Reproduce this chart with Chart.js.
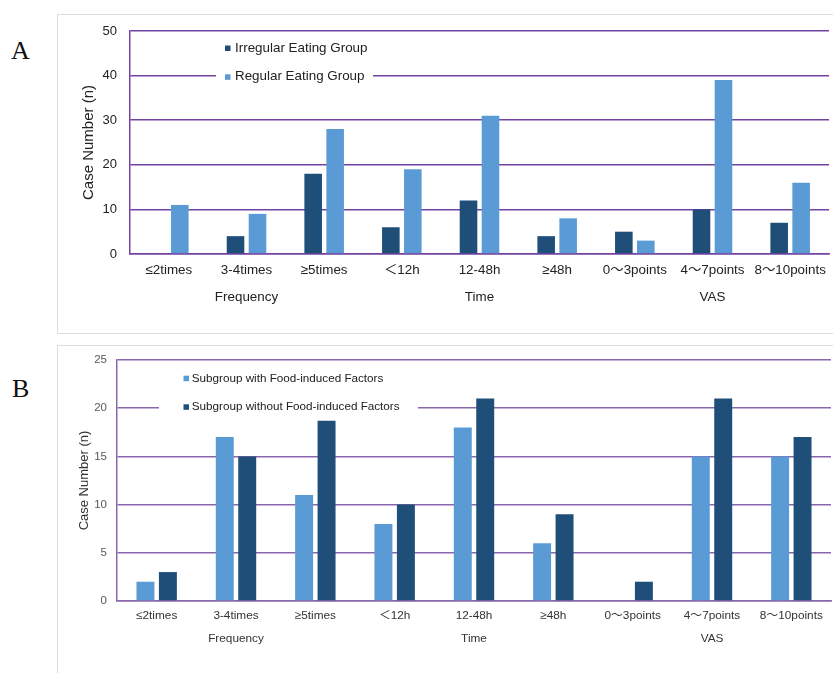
<!DOCTYPE html>
<html>
<head>
<meta charset="utf-8">
<script src="https://cdn.jsdelivr.net/npm/chart.js@4.4.1/dist/chart.umd.min.js"></script>
<style>
  html, body { margin: 0; padding: 0; background: #fff; }
  body { width: 833px; height: 673px; position: relative; overflow: hidden; }
  .box { position: absolute; border: 1.5px solid #dcdcdc; box-sizing: border-box; }
  .tag { position: absolute; font-family: "Liberation Serif", "Times New Roman", serif; font-size: 26px; color: #111; line-height: 1; }
  canvas { position: absolute; left: 0; }
</style>
</head>
<body>
<div class="box" style="left:57px; top:14px; width:800px; height:320px;"></div>
<div class="box" style="left:57px; top:345px; width:800px; height:360px;"></div>
<div class="tag" style="left:11px; top:37.5px;">A</div>
<div class="tag" style="left:12px; top:376px;">B</div>
<canvas id="chartA" width="833" height="340" style="top:0;"></canvas>
<canvas id="chartB" width="833" height="333" style="top:340px;"></canvas>
<script>
/* ─── Data ─── */
const categories = ["≤2times", "3-4times", "≥5times", "＜12h", "12-48h", "≥48h", "0～3points", "4～7points", "8～10points"];
const groupLabels = ["", "Frequency", "", "", "Time", "", "", "VAS", ""];

const irregularEating = [0, 4, 18, 6, 12, 4, 5, 10, 7];
const regularEating = [11, 9, 28, 19, 31, 8, 3, 39, 16];
const ticksA = [0, 10, 20, 30, 40, 50];

const withFood = [2, 17, 11, 8, 18, 6, 0, 15, 15];
const withoutFood = [3, 15, 18.7, 10, 21, 9, 2, 21, 17];
const ticksB = [0, 5, 10, 15, 20, 25];

const DARK = "#1f4e79";
const LIGHT = "#5b9bd5";
const FONT = "'Liberation Sans', Arial, 'Noto Sans CJK SC', sans-serif";
Chart.defaults.font.family = FONT;

// category label + group name on a second line
const xLabels = categories.map((c, i) => (groupLabels[i] ? [c, groupLabels[i]] : c));

/* ─── Legend drawn inside the plot, on a white patch ─── */
const boxLegend = {
  id: "boxLegend",
  beforeDatasetsDraw(chart, args, o) {
    const ctx = chart.ctx;
    ctx.save();
    ctx.fillStyle = "#fff";
    ctx.fillRect(o.x, o.y, o.w, o.h);
    ctx.font = o.fontSize + "px " + FONT;
    ctx.textBaseline = "alphabetic";
    chart.data.datasets.forEach((ds, i) => {
      const base = o.baselines[i];
      ctx.fillStyle = ds.backgroundColor;
      ctx.fillRect(o.boxX, base - 6, 5.5, 5.5);
      ctx.fillStyle = o.color;
      ctx.fillText(ds.label, o.textX, base);
    });
    ctx.restore();
  },
};

function makeChart(id, datasets, ticks, s) {
  return new Chart(document.getElementById(id), {
    type: "bar",
    data: {
      labels: xLabels,
      datasets: datasets.map((d) => ({
        label: d.label,
        data: d.data,
        backgroundColor: d.color,
        borderWidth: 0,
        categoryPercentage: 0.566,
        barPercentage: 0.8,
      })),
    },
    options: {
      responsive: false,
      animation: false,
      events: [],
      layout: { padding: { left: s.padLeft, right: s.padRight, top: s.padTop, bottom: s.padBottom } },
      plugins: {
        legend: { display: false },
        tooltip: { enabled: false },
        boxLegend: s.legend,
      },
      scales: {
        x: {
          grid: { display: false, drawTicks: false },
          border: { display: true, color: s.gridColor, width: 1.5 },
          ticks: {
            autoSkip: false,
            maxRotation: 0,
            padding: s.xPad,
            color: s.textColor,
            font: { size: s.xFont, lineHeight: s.xLine },
          },
          afterFit: (sc) => { sc.height = 60; },
        },
        y: {
          min: ticks[0],
          max: ticks[ticks.length - 1],
          grid: { color: s.gridColor, lineWidth: 1.5, drawTicks: false },
          border: { display: true, color: s.gridColor, width: 1.5 },
          ticks: {
            stepSize: ticks[1] - ticks[0],
            padding: s.yPad,
            color: s.yTickColor,
            font: { size: s.yFont },
          },
          title: {
            display: true,
            text: "Case Number (n)",
            color: s.textColor,
            font: { size: s.titleFont },
            padding: { top: s.titlePad, bottom: 0 },
          },
          afterFit: (sc) => { sc.width = 60; },
        },
      },
    },
    plugins: [boxLegend],
  });
}

/* ─── Panel A ─── */
makeChart(
  "chartA",
  [
    { label: "Irregular Eating Group", data: irregularEating, color: DARK },
    { label: "Regular Eating Group", data: regularEating, color: LIGHT },
  ],
  ticksA,
  {
    padLeft: 70, padRight: 4, padTop: 31, padBottom: 26,
    gridColor: "#7343a2",
    textColor: "#222",
    yTickColor: "#222",
    xFont: 13.4, xLine: 2.015, xPad: 2.5,
    yFont: 13, yPad: 13, titleFont: 15, titlePad: 10,
    legend: {
      x: 216, y: 34, w: 157, h: 54,
      boxX: 225, textX: 235, baselines: [51.5, 80.3],
      fontSize: 13.4, color: "#222",
    },
  }
);

/* ─── Panel B ─── */
makeChart(
  "chartB",
  [
    { label: "Subgroup with Food-induced Factors", data: withFood, color: LIGHT },
    { label: "Subgroup without Food-induced Factors", data: withoutFood, color: DARK },
  ],
  ticksB,
  {
    padLeft: 57, padRight: 2, padTop: 20, padBottom: 12,
    gridColor: "#8a66ae",
    textColor: "#333",
    yTickColor: "#595959",
    xFont: 11.8, xLine: 1.95, xPad: 3.5,
    yFont: 11.5, yPad: 10, titleFont: 13, titlePad: 20,
    legend: {
      x: 159, y: 24, w: 259, h: 54,
      boxX: 183.5, textX: 191.7, baselines: [41.7, 70.3],
      fontSize: 11.7, color: "#222",
    },
  }
);
</script>
</body>
</html>
